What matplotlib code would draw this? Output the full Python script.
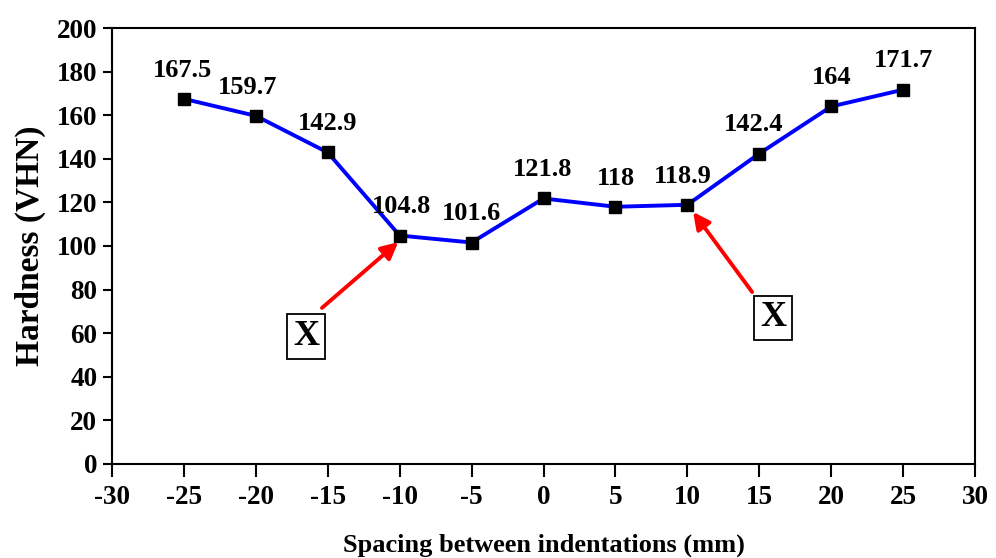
import matplotlib
matplotlib.use('Agg')
import matplotlib.pyplot as plt

# hardness traverse across the joint
spacing = [-25, -20, -15, -10, -5, 0, 5, 10, 15, 20, 25]
hardness = [167.5, 159.7, 142.9, 104.8, 101.6, 121.8, 118, 118.9, 142.4, 164, 171.7]
# small sideways nudges (points) so labels don't sit on the line
label_dx = [-1, -6, 0, 1, 0, -1, 0, -3, -4, 0, 0]

plt.rcParams['font.family'] = ['Liberation Serif', 'DejaVu Serif']
plt.rcParams['font.weight'] = 'bold'
plt.rcParams['axes.unicode_minus'] = False

fig = plt.figure(figsize=(9.96, 5.58), dpi=100)
ax = fig.add_subplot(1, 1, 1)
fig.subplots_adjust(left=0.1124, right=0.979, top=0.9498, bottom=0.1685)

ax.plot(spacing, hardness, '-', color='#0000ff', lw=2.8,
        marker='s', ms=8, mfc='black', mec='black', zorder=3)

for x, y, dx in zip(spacing, hardness, label_dx):
    ax.annotate('{:g}'.format(y), (x, y), xytext=(dx, 16), textcoords='offset points',
                ha='center', va='baseline', fontsize=19, fontweight='bold')

# the two marked points with arrows and boxed X labels
arrow = dict(arrowstyle='-|>,head_length=1.0,head_width=0.5', color='#ff0000', lw=2.8,
             shrinkA=0, shrinkB=0)
ax.annotate('', xy=(-10.1, 101.8), xytext=(-15.4, 71.6), arrowprops=arrow)
ax.annotate('', xy=(10.4, 115.6), xytext=(14.5, 78.9), arrowprops=arrow)
box = dict(boxstyle='square,pad=0.16', fc='white', ec='black', lw=1.3)
ax.text(-16.5, 58.5, 'X', ha='center', va='center', fontsize=26, fontweight='bold', bbox=box)
ax.text(15.95, 67, 'X', ha='center', va='center', fontsize=26, fontweight='bold', bbox=box)

ax.set_xlim(-30, 30)
ax.set_ylim(0, 200)
ax.set_xticks(range(-30, 31, 5))
ax.set_yticks(range(0, 201, 20))
ax.tick_params(direction='out', width=1.5, labelsize=19.5)
ax.tick_params(axis='y', length=6.5, pad=4)
ax.tick_params(axis='x', length=9, pad=6)
for lab in ax.get_xticklabels() + ax.get_yticklabels():
    lab.set_fontweight('bold')
for sp in ax.spines.values():
    sp.set_linewidth(1.5)

ax.set_ylabel('Hardness (VHN)', fontsize=24, fontweight='bold', labelpad=8)
ax.set_xlabel('Spacing between indentations (mm)', fontsize=19, fontweight='bold', labelpad=17)

fig.savefig('out.png', dpi=100)
